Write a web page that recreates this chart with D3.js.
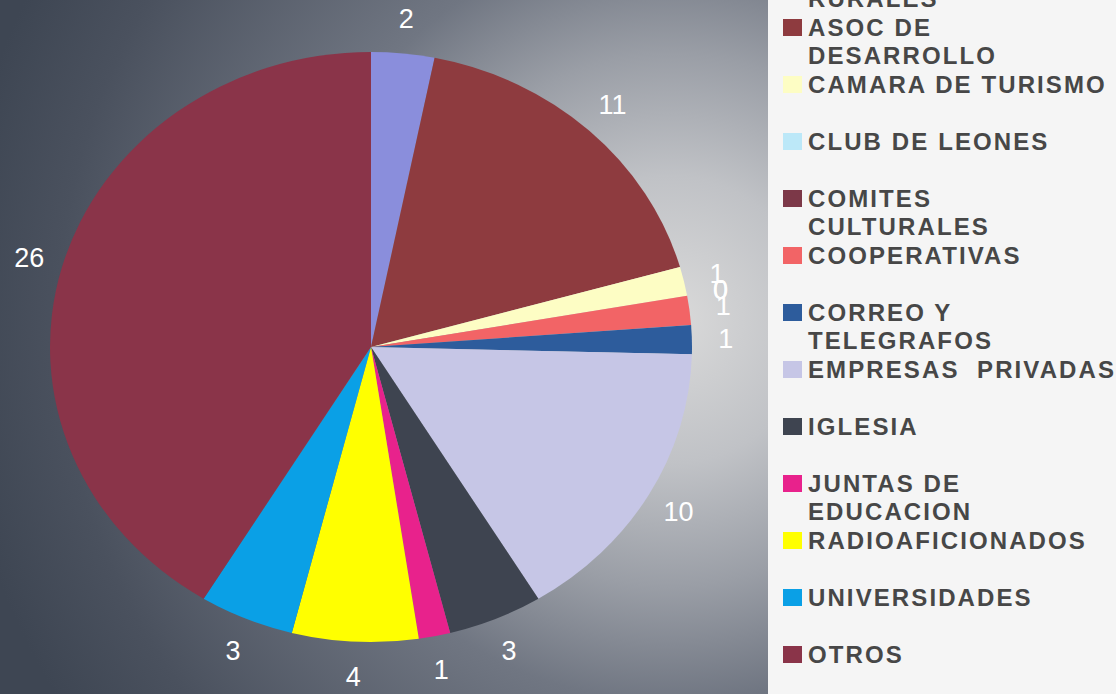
<!DOCTYPE html>
<html>
<head>
<meta charset="utf-8">
<script src="https://cdn.jsdelivr.net/npm/d3@7"></script>
<style>
  html, body { margin: 0; padding: 0; background: #fff; }
  svg { display: block; }
  text { font-family: "Liberation Sans", Arial, sans-serif; }
</style>
</head>
<body>
<div id="chart"></div>
<script>
const W = 1116, H = 694;

// categorias y valores
const categories = [
  "ACUEDUCTOS RURALES", "ASOC DE DESARROLLO", "CAMARA DE TURISMO", "CLUB DE LEONES",
  "COMITES CULTURALES", "COOPERATIVAS", "CORREO Y TELEGRAFOS", "EMPRESAS  PRIVADAS",
  "IGLESIA", "JUNTAS DE EDUCACION", "RADIOAFICIONADOS", "UNIVERSIDADES", "OTROS"
];
const values = [2, 11, 1, 0, 0, 1, 1, 10, 3, 1, 4, 3, 26];
const colors = [
  "#8a8edc", "#8e3b3f", "#fdfdc4", "#bce8f8", "#7c3848", "#f26466", "#2d5c9c",
  "#c6c6e6", "#3e4450", "#e8228c", "#ffff00", "#0aa0e6", "#8a3449"
];

const cx = 371, cy = 347;   // centro del pastel
const rx = 321, ry = 295;   // el pastel aparece estirado en horizontal

const svg = d3.select("#chart")
  .append("svg")
  .attr("width", W)
  .attr("height", H);

// fondo degradado gris
const defs = svg.append("defs");
const grad = defs.append("radialGradient")
  .attr("id", "bg")
  .attr("gradientUnits", "userSpaceOnUse")
  .attr("cx", 670).attr("cy", 320).attr("r", 720);
[[0, "#dadada"], [0.2, "#c0c2c6"], [0.37, "#9a9ea6"], [0.53, "#707682"], [0.85, "#4a515e"], [1, "#3e4653"]]
  .forEach(([o, c]) => grad.append("stop").attr("offset", o).attr("stop-color", c));

svg.append("rect")
  .attr("width", W).attr("height", H)
  .attr("fill", "url(#bg)");

const pie = d3.pie().sort(null).value(d => d);
const arcs = pie(values);

const arc = d3.arc().innerRadius(0).outerRadius(rx);

const pieG = svg.append("g")
  .attr("transform", `translate(${cx},${cy}) scale(1,${ry / rx})`);

pieG.selectAll("path")
  .data(arcs)
  .enter()
  .append("path")
  .attr("d", arc)
  .attr("fill", (d, i) => colors[i]);

// etiquetas de valor fuera del pastel
const lx = rx + 34, ly = ry + 35;
svg.append("g")
  .selectAll("text")
  .data(arcs)
  .enter()
  .append("text")
  .attr("x", d => cx + lx * Math.sin((d.startAngle + d.endAngle) / 2))
  .attr("y", d => cy - ly * Math.cos((d.startAngle + d.endAngle) / 2))
  .attr("text-anchor", "middle")
  .attr("dominant-baseline", "central")
  .attr("fill", "#ffffff")
  .attr("font-size", 27)
  .text(d => d.data);

// leyenda
const legX = 768;
svg.append("rect")
  .attr("x", legX).attr("y", 0)
  .attr("width", W - legX).attr("height", H)
  .attr("fill", "#f5f5f5");

const legY = d3.scaleLinear().domain([1, 12]).range([27, 654]);
const lineGap = 28.5;

// corta en dos lineas los nombres largos
function wrap(name) {
  if (name.length <= 17 || name.includes("  ")) return [name];
  const k = name.lastIndexOf(" ");
  return [name.slice(0, k), name.slice(k + 1)];
}

const items = svg.append("g")
  .selectAll("g")
  .data(categories)
  .enter()
  .append("g")
  .attr("transform", (d, i) => `translate(0,${legY(i)})`);

items.append("rect")
  .attr("x", 783).attr("y", -8)
  .attr("width", 19).attr("height", 17)
  .attr("fill", (d, i) => colors[i]);

items.append("text")
  .attr("x", 808)
  .attr("fill", "#474747")
  .attr("font-size", 24)
  .attr("font-weight", "bold")
  .style("letter-spacing", "2.1px")
  .style("white-space", "pre")
  .selectAll("tspan")
  .data(d => wrap(d))
  .enter()
  .append("tspan")
  .attr("x", 808)
  .attr("y", (d, j) => j * lineGap)
  .attr("dy", "0.36em")
  .text(d => d);
</script>
</body>
</html>
